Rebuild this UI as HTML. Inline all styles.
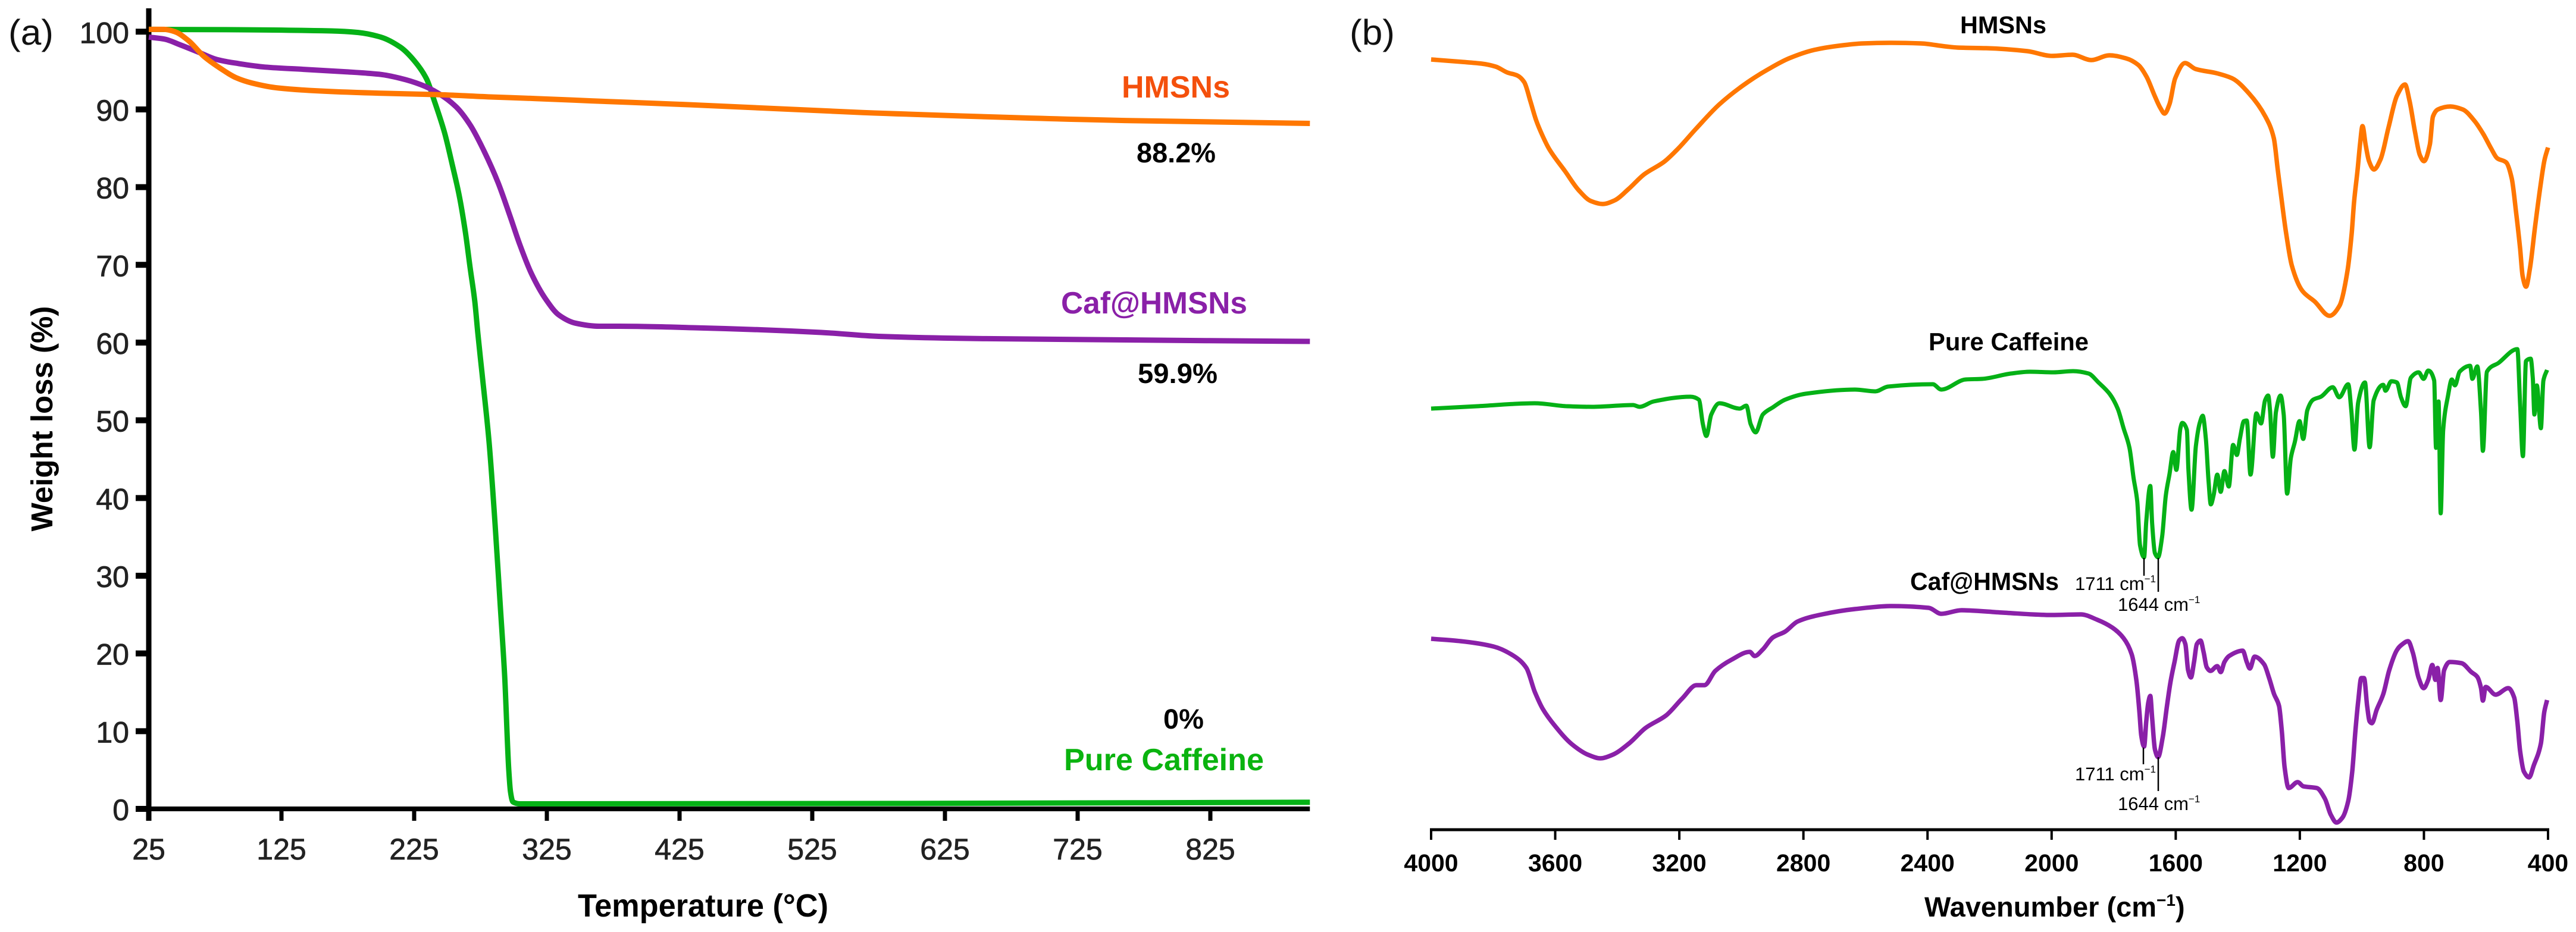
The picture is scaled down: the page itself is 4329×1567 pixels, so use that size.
<!DOCTYPE html>
<html lang="en">
<head>
<meta charset="utf-8">
<title>TGA and FTIR of HMSNs, Pure Caffeine and Caf@HMSNs</title>
<style>
html,body{margin:0;padding:0;background:#fff;}
svg{display:block;}
text{font-family:"Liberation Sans",Arial,sans-serif;text-rendering:geometricPrecision;}
</style>
</head>
<body>
<svg id="figure" xmlns="http://www.w3.org/2000/svg" width="4329" height="1567" viewBox="0 0 4329 1567">
<rect x="0" y="0" width="4329" height="1567" fill="#ffffff"/>
<g id="tga">
  <text x="14" y="75" font-size="60" textLength="76" lengthAdjust="spacingAndGlyphs" fill="#111">(a)</text>
  <text transform="translate(88 704) rotate(-90)" text-anchor="middle" font-size="51" font-weight="bold" fill="#000">Weight loss (%)</text>
  <text x="971" y="1541" font-size="54" font-weight="bold" textLength="421" lengthAdjust="spacingAndGlyphs" fill="#000">Temperature (°C)</text>
  <g id="tga-axes"></g>
  <g id="tga-lines"></g>
  <text x="1885" y="164" font-size="52" font-weight="bold" textLength="182" lengthAdjust="spacingAndGlyphs" fill="#f4500c">HMSNs</text>
  <text x="1910" y="273" font-size="47" font-weight="bold" textLength="133" lengthAdjust="spacingAndGlyphs" fill="#000">88.2%</text>
  <text x="1783" y="527" font-size="52" font-weight="bold" textLength="313" lengthAdjust="spacingAndGlyphs" fill="#8a20a8">Caf@HMSNs</text>
  <text x="1912" y="644" font-size="47" font-weight="bold" textLength="134" lengthAdjust="spacingAndGlyphs" fill="#000">59.9%</text>
  <text x="1955" y="1225" font-size="47" font-weight="bold" textLength="68" lengthAdjust="spacingAndGlyphs" fill="#000">0%</text>
  <text x="1788" y="1295" font-size="52" font-weight="bold" textLength="336" lengthAdjust="spacingAndGlyphs" fill="#0ab30f">Pure Caffeine</text>
</g>
<g id="ftir">
  <text x="2268" y="75" font-size="60" textLength="76" lengthAdjust="spacingAndGlyphs" fill="#111">(b)</text>
  <text x="3234" y="1541" font-size="47" font-weight="bold" fill="#000">Wavenumber (cm<tspan font-size="28" dy="-18">−1</tspan><tspan dy="18">)</tspan></text>
  <g id="ftir-axes"></g>
  <g id="ftir-lines"></g>
  <line x1="3603" y1="938" x2="3603" y2="968" stroke="#000" stroke-width="2.5"/>
  <line x1="3627" y1="938" x2="3627" y2="995" stroke="#000" stroke-width="2.5"/>
  <line x1="3602" y1="1257" x2="3602" y2="1285" stroke="#000" stroke-width="2.5"/>
  <line x1="3627" y1="1273" x2="3627" y2="1330" stroke="#000" stroke-width="2.5"/>
  <text x="3294" y="56" font-size="41" font-weight="bold" textLength="145" lengthAdjust="spacingAndGlyphs" fill="#000">HMSNs</text>
  <text x="3241" y="589" font-size="42" font-weight="bold" textLength="269" lengthAdjust="spacingAndGlyphs" fill="#000">Pure Caffeine</text>
  <text x="3210" y="992" font-size="42" font-weight="bold" textLength="250" lengthAdjust="spacingAndGlyphs" fill="#000">Caf@HMSNs</text>
  <text x="3487" y="992" font-size="31" fill="#000">1711 cm<tspan font-size="17" dy="-13">−1</tspan></text>
  <text x="3559" y="1027" font-size="31" fill="#000">1644 cm<tspan font-size="17" dy="-13">−1</tspan></text>
  <text x="3487" y="1312" font-size="31" fill="#000">1711 cm<tspan font-size="17" dy="-13">−1</tspan></text>
  <text x="3559" y="1362" font-size="31" fill="#000">1644 cm<tspan font-size="17" dy="-13">−1</tspan></text>
</g>
</svg>
<script>
// ---------- TGA data ----------
const tgaXTicks = [25,125,225,325,425,525,625,725,825];
const tgaYTicks = [0,10,20,30,40,50,60,70,80,90,100];

const caffeineT = [25,92,162.7,182.8,199.9,214.7,225.4,234.4,240.2,247.9,253.7,259.1,263.6,267.2,270.7,273,276.1,281.5,286,289.6,293.2,296.3,297.6,299.4,305,585.5,900];
const caffeineW = [100.3,100.25,100.1,99.9,99.3,98,96.2,93.9,91.1,87,82.9,78.8,74.2,69.6,65.3,61.2,56.1,47.1,36.6,26.9,17.1,5,2.2,0.9,0.65,0.7,0.85];

const cafHmsnT = [25,36.7,48.8,62.7,76.6,92.7,112.7,142.7,172.8,199.9,214.7,229.9,243.4,256.8,267.2,277.5,288.2,297.2,304.4,313.3,324.1,334.4,346.5,364.5,379.3,439.3,532,575,656,900];
const cafHmsnW = [99.3,99.05,98.3,97.35,96.4,95.9,95.45,95.15,94.85,94.5,94,93.2,92.06,90.3,88,84.7,80.6,76.3,72.7,68.9,65.6,63.5,62.5,62.1,62.1,61.9,61.3,60.8,60.5,60.15];

const hmsnT = [25,36.7,44.7,54.6,66.7,78.8,90.5,102.6,122.8,162.7,202.6,243,284.2,316.5,358.6,433,563,767,900];
const hmsnW = [100.3,100.3,100,98.9,96.8,95.3,94.1,93.4,92.75,92.3,92.07,91.9,91.6,91.4,91.1,90.6,89.6,88.55,88.2];

// ---------- FTIR data (relative transmittance, a.u.) ----------
const ftirXTicks = [4000,3600,3200,2800,2400,2000,1600,1200,800,400];

const hmsnWn = [4000,3901,3837,3792,3754,3722,3700,3680,3661,3642,3620,3568,3524,3485,3447,3409,3364,3313,3249,3204,3147,3070,2978,2912,2846,2766,2687,2608,2515,2422,2343,2303,2211,2078,1999,1933,1872,1814,1761,1721,1694,1668,1649,1636,1620,1602,1570,1536,1469,1417,1364,1311,1284,1271,1258,1244,1226,1192,1152,1104,1072,1046,1033,1025,1014,1006,998,988,977,961,940,914,887,861,847,829,813,800,781,771,755,715,675,636,609,583,564,535,517,503,490,482,471,458,442,424,411,400];
const hmsnT2 = [1295,1291,1288,1283,1273,1268,1257,1225,1192,1168,1145,1107,1075,1057,1052,1058,1077,1102,1123,1145,1178,1220,1257.5,1279,1297,1311,1318,1322,1323,1322,1317,1315,1314,1309,1301,1303,1294,1302,1297,1286,1266,1234,1213,1204,1220,1263,1289,1279,1272,1263,1238,1199,1163,1109,1056,1002,949,906,888,864,881,941,1002,1056,1109,1152,1183,1152,1124,1110,1127,1181,1234,1253,1227,1174,1134,1124,1152,1199,1211,1216,1211,1191,1170,1145,1129,1122,1095,1038,977,931,913,945,1013,1084,1127,1147];

const caffeineWn = [4000,3852,3666,3561,3481,3349,3328,3283,3164,3137,3124,3113,3097,3071,3005,2984,2970,2954,2931,2899,2859,2793,2634,2568,2528,2383,2356,2277,2224,2131,2070,1994,1931,1881,1849,1812,1787,1768,1749,1736,1724,1715,1702,1695,1682,1676,1667,1657,1644,1632,1620,1608,1598,1585,1579,1564,1559,1549,1535,1522,1513,1503,1494,1487,1478,1466,1455,1443,1429,1415,1403,1393,1380,1371,1359,1340,1325,1312,1302,1296,1287,1277,1262,1252,1241,1229,1216,1201,1189,1176,1157,1132,1094,1073,1044,1034,1024,1012,990,975,962,931,924,905,887,874,859,842,817,801,786,767,761,753,746,738,723,710,700,685,651,644,628,616,610,597,559,499,490,481,471,456,449,444,436,423,415,403];
const caffeineT2 = [708,712,717,712,711,714,711,720,728,723,682,662,698,717,708,713,682,668,698,710,723,733,740,737,745,749,740,757,758,767,770,769,771,767,752,732,708,675,642,592,552,478,458,518,578,515,465,458,492,562,598,635,605,675,684,672,605,538,645,685,696,658,585,547,562,597,568,603,577,647,630,658,687,688,597,700,683,722,730,705,627,702,730,698,565,625,652,687,657,705,723,728,744,727,749,705,639,718,752,643,722,748,738,754,752,727,712,760,769,758,772,755,642,720,532,672,728,757,747,770,780,758,779,702,637,770,785,808,715,628,788,792,758,698,747,675,755,773];

const cafHmsnWn = [4000,3905,3799,3733,3693,3666,3640,3600,3547,3494,3455,3415,3362,3309,3243,3190,3145,3119,3084,3031,2973,2957,2931,2899,2859,2819,2740,2634,2515,2396,2356,2290,2158,1999,1906,1853,1805,1768,1742,1727,1717,1711,1702,1695,1688,1682,1676,1667,1657,1642,1629,1617,1604,1589,1579,1569,1560,1551,1541,1532,1520,1510,1500,1488,1466,1455,1443,1428,1384,1371,1361,1346,1315,1299,1283,1267,1258,1249,1236,1207,1189,1145,1119,1100,1082,1063,1044,1031,1021,1012,1002,993,983,975,968,952,931,912,887,874,851,836,817,801,786,773,763,756,746,735,717,679,647,628,616,610,601,569,528,509,499,490,478,461,446,423,412,403];
const cafHmsnT2 = [321,317,308,292,272,232,203,174,144,126,120,126,145,171,192,221,243,243,267,286,299,292,303,323,333,350,362,371,376,373,363,369,365,361,362,353,340,322,295,252,198,158,140,182,215,225,188,135,122,155,205,248,282,318,322,312,268,256,282,312,318,298,273,267,275,265,282,292,301,282,271,291,278,255,228,208,165,105,70,80,73,70,52,25,12,20,48,98,165,215,255,255,208,182,179,202,228,268,302,310,317,298,255,238,252,277,252,272,218,268,282,280,265,257,238,217,240,227,238,222,182,132,98,88,108,145,198,218];

// ---------- Axis functions ----------
const NS = 'http://www.w3.org/2000/svg';
function tgaX(t){ return 250 + (t - 25) * 2.23; }
function tgaY(w){ return 1360 - w * 13.067; }
function ftirX(wn){ return 2405 + (4000 - wn) * 0.52139; }
function ftirY(v){ return 1395 - v; }

function make(tag, parent, attrs){
  const el = document.createElementNS(NS, tag);
  for (const k in attrs) el.setAttribute(k, attrs[k]);
  parent.appendChild(el);
  return el;
}
// Monotone cubic interpolation (Fritsch-Carlson): no overshoot, extrema stay at the read values.
function smoothPath(xs, ys){
  const n = xs.length;
  const h = [], s = [], m = [];
  for (let i = 0; i < n - 1; i++){
    h.push(Math.max(xs[i + 1] - xs[i], 0.01));
    s.push((ys[i + 1] - ys[i]) / h[i]);
  }
  m.push(s[0]);
  for (let i = 1; i < n - 1; i++){
    if (s[i - 1] * s[i] <= 0){
      m.push(0);
    } else {
      const w1 = 2 * h[i] + h[i - 1], w2 = h[i] + 2 * h[i - 1];
      m.push((w1 + w2) / (w1 / s[i - 1] + w2 / s[i]));
    }
  }
  m.push(s[n - 2]);
  let d = 'M' + xs[0].toFixed(1) + ' ' + ys[0].toFixed(1);
  for (let i = 0; i < n - 1; i++){
    d += 'C' + (xs[i] + h[i] / 3).toFixed(1) + ' ' + (ys[i] + m[i] * h[i] / 3).toFixed(1) + ' ' +
         (xs[i + 1] - h[i] / 3).toFixed(1) + ' ' + (ys[i + 1] - m[i + 1] * h[i] / 3).toFixed(1) + ' ' +
         xs[i + 1].toFixed(1) + ' ' + ys[i + 1].toFixed(1);
  }
  return d;
}

// ---------- TGA axes ----------
const tgaAxes = document.getElementById('tga-axes');
const tgaYLine = make('line', tgaAxes, {x1: tgaX(25), y1: 14, x2: tgaX(25), y2: 1380, stroke: '#000', 'stroke-width': 9});


const tgaXLine = make('line', tgaAxes, {x1: tgaX(25) - 4, y1: tgaY(0), x2: tgaX(900), y2: tgaY(0), stroke: '#000', 'stroke-width': 8});



tgaYTicks.forEach(v => {
  const t = make('line', tgaAxes, {x1: 228, y1: tgaY(v), x2: 246, y2: tgaY(v), stroke: '#000', 'stroke-width': 10});
  
  
  const l = make('text', tgaAxes, {x: 217, y: tgaY(v) + 19, 'text-anchor': 'end', 'font-size': 50, fill: '#222', stroke: '#222', 'stroke-width': 0.8});
  
  
  l.textContent = v;
});
tgaXTicks.forEach(v => {
  const t = make('line', tgaAxes, {x1: tgaX(v), y1: 1360, x2: tgaX(v), y2: 1380, stroke: '#000', 'stroke-width': 7});
  
  
  const l = make('text', tgaAxes, {x: tgaX(v), y: 1445, 'text-anchor': 'middle', 'font-size': 50, fill: '#222', stroke: '#222', 'stroke-width': 0.8});
  
  
  l.textContent = v;
});

// ---------- TGA curves ----------
const tgaLines = document.getElementById('tga-lines');
const tgaCaffeine = make('path', tgaLines, {d: smoothPath(caffeineT.map(tgaX), caffeineW.map(tgaY)), fill: 'none', stroke: '#05b116', 'stroke-width': 9, 'stroke-linejoin': 'round'});


const tgaCaf = make('path', tgaLines, {d: smoothPath(cafHmsnT.map(tgaX), cafHmsnW.map(tgaY)), fill: 'none', stroke: '#8a20a8', 'stroke-width': 9, 'stroke-linejoin': 'round'});


const tgaHmsn = make('path', tgaLines, {d: smoothPath(hmsnT.map(tgaX), hmsnW.map(tgaY)), fill: 'none', stroke: '#ff7700', 'stroke-width': 9, 'stroke-linejoin': 'round'});



// ---------- FTIR axes ----------
const ftirAxes = document.getElementById('ftir-axes');
const ftirLine = make('line', ftirAxes, {x1: ftirX(4000) - 2, y1: 1395, x2: ftirX(400) + 2, y2: 1395, stroke: '#000', 'stroke-width': 5});


ftirXTicks.forEach(v => {
  const t = make('line', ftirAxes, {x1: ftirX(v), y1: 1395, x2: ftirX(v), y2: 1412, stroke: '#000', 'stroke-width': 4});
  
  
  const l = make('text', ftirAxes, {x: ftirX(v), y: 1465, 'text-anchor': 'middle', 'font-size': 41, 'font-weight': 'bold', fill: '#000'});
  
  
  l.textContent = v;
});

// ---------- FTIR spectra ----------
const ftirLines = document.getElementById('ftir-lines');
const ftirHmsn = make('path', ftirLines, {d: smoothPath(hmsnWn.map(ftirX), hmsnT2.map(ftirY)), fill: 'none', stroke: '#ff7700', 'stroke-width': 7.5, 'stroke-linejoin': 'round'});


const ftirCaffeine = make('path', ftirLines, {d: smoothPath(caffeineWn.map(ftirX), caffeineT2.map(ftirY)), fill: 'none', stroke: '#05b116', 'stroke-width': 7, 'stroke-linejoin': 'round'});


const ftirCaf = make('path', ftirLines, {d: smoothPath(cafHmsnWn.map(ftirX), cafHmsnT2.map(ftirY)), fill: 'none', stroke: '#8a20a8', 'stroke-width': 7.5, 'stroke-linejoin': 'round'});


</script>
</body>
</html>
